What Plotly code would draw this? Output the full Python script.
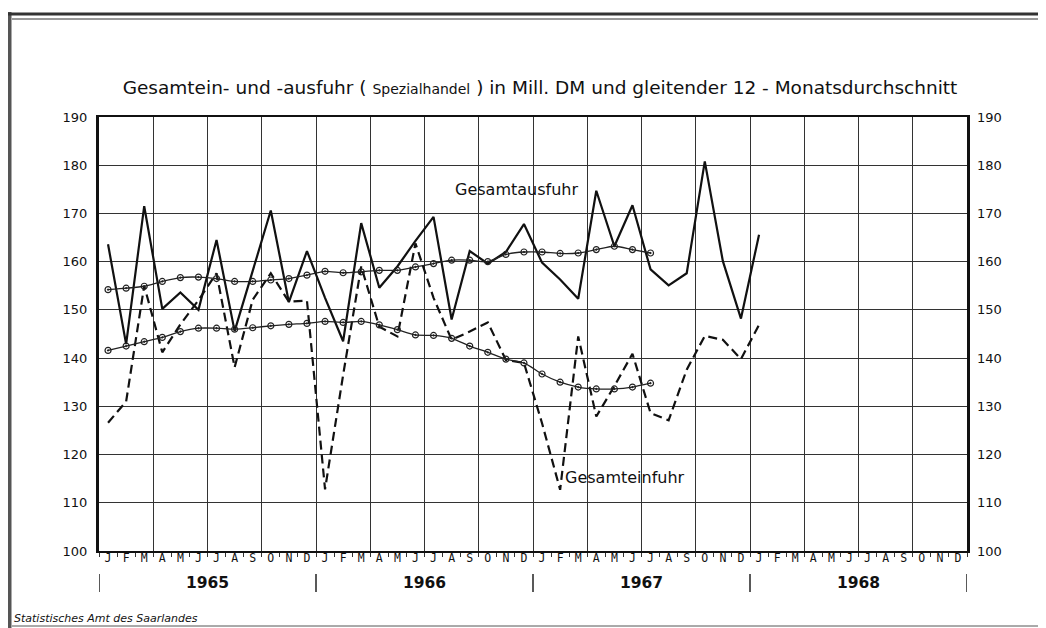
import plotly.graph_objects as go

months = ["J", "F", "M", "A", "M", "J", "J", "A", "S", "O", "N", "D"] * 4
years = ["1965", "1966", "1967", "1968"]

ausfuhr = [163.6, 142.9, 171.5, 150.2, 153.6, 150.0, 164.5, 145.6, 158.1, 170.6, 151.6, 162.2,
           152.5, 143.5, 168.0, 154.6, 159.0, 164.3, 169.3, 148.0, 162.2, 159.6, 162.0, 167.8,
           159.8, 156.3, 152.3, 174.7, 163.2, 171.7, 158.4, 155.1, 157.6, 180.8, 160.1, 148.2,
           165.6]
einfuhr = [126.6, 131.0, 155.0, 141.2, 147.0, 152.0, 157.6, 138.1, 152.1, 157.6, 151.7, 151.9,
           112.8, 136.5, 159.0, 146.5, 144.5, 163.8, 152.5, 143.8, 145.5, 147.4, 139.6, 139.0,
           126.5, 112.7, 144.5, 127.9, 134.2, 140.9, 128.6, 127.1, 137.6, 144.6, 143.8, 139.8,
           146.9]
ausfuhr_avg = [154.2, 154.5, 154.9, 155.9, 156.7, 156.8, 156.5, 155.9, 155.9, 156.2, 156.5, 157.2,
               158.0, 157.7, 157.9, 158.2, 158.2, 158.9, 159.6, 160.3, 160.3, 160.0, 161.5, 162.0,
               162.0, 161.7, 161.8, 162.5, 163.2, 162.5, 161.8]
einfuhr_avg = [141.6, 142.5, 143.4, 144.3, 145.5, 146.2, 146.2, 146.0, 146.3, 146.7, 147.0, 147.2,
               147.6, 147.4, 147.6, 146.9, 145.9, 144.8, 144.7, 144.1, 142.5, 141.2, 139.8, 139.0,
               136.7, 135.0, 134.0, 133.6, 133.6, 134.0, 134.8]
y_ticks = list(range(100, 191, 10))

# page body has an 8px default margin: work in window pixels, shifted by OFF
OFF = 8
W, H = 1046 - OFF, 628 - OFF
L, R, T, B = 99 - OFF, 967 - OFF, 117 - OFF, 551 - OFF
PW, PH = R - L, B - T


def px_x(p):
    return (p - OFF - L) / PW


def px_y(p):
    return (B - (p - OFF)) / PH


FONT = "DejaVu Sans"
fig = go.Figure()

fig.add_trace(go.Scatter(x=list(range(len(ausfuhr))), y=ausfuhr, mode="lines",
                         line=dict(color="#111", width=2.2), name="Gesamtausfuhr",
                         showlegend=False))
fig.add_trace(go.Scatter(x=list(range(len(einfuhr))), y=einfuhr, mode="lines",
                         line=dict(color="#111", width=2.2, dash="9px,5px"), name="Gesamteinfuhr",
                         showlegend=False))
for avg in (ausfuhr_avg, einfuhr_avg):
    fig.add_trace(go.Scatter(x=list(range(len(avg))), y=avg, mode="lines+markers",
                             line=dict(color="#222", width=1.3, shape="spline", smoothing=0.6),
                             marker=dict(symbol="circle-open-dot", size=6, color="#222",
                                         line=dict(width=1.2, color="#222")),
                             showlegend=False))

# month labels on an overlaid axis
fig.add_trace(go.Scatter(x=[0, 47], y=[None, None], xaxis="x2", yaxis="y2",
                         mode="markers", showlegend=False, hoverinfo="skip"))

fig.update_layout(
    width=W, height=H, autosize=False,
    margin=dict(l=L, r=W - R, t=T, b=H - B),
    paper_bgcolor="white", plot_bgcolor="white",
    font=dict(family=FONT, color="#111"),
    title=dict(text="Gesamtein- und -ausfuhr ( <span style='font-size:14px'>Spezialhandel</span> ) in Mill. DM und gleitender 12 - Monatsdurchschnitt",
               x=px_x(540), xanchor="center", xref="paper", y=1 - (88 - OFF) / H, yanchor="middle",
               font=dict(size=18.5, family=FONT, color="#111")),
    xaxis=dict(range=[-0.5, 47.5], tickvals=[-0.5 + 3 * k for k in range(17)],
               ticktext=[""] * 17, showgrid=True, gridcolor="#333", gridwidth=1,
               ticks="outside", ticklen=4, tickcolor="#333",
               minor=dict(tickvals=[-0.5 + k for k in range(49)], ticks="outside",
                          ticklen=4, tickcolor="#333", showgrid=False),
               showline=True, linecolor="#111", linewidth=1.5, mirror=True, zeroline=False),
    xaxis2=dict(range=[-0.5, 47.5], overlaying="x", side="bottom", anchor="y",
                tickvals=list(range(48)), ticktext=months, ticks="", showgrid=False,
                showline=False, zeroline=False, ticklabelstandoff=-2,
                tickfont=dict(size=11.5, family="DejaVu Sans Mono", color="#111")),
    yaxis=dict(range=[100, 190], tickvals=y_ticks, showgrid=True, gridcolor="#333",
               gridwidth=1, ticks="", showline=True, linecolor="#111", linewidth=3,
               mirror=True, zeroline=False, tickfont=dict(size=13, color="#111"),
               ticklabelstandoff=6),
    yaxis2=dict(range=[100, 190], tickvals=y_ticks, overlaying="y", side="right",
                showgrid=False, showline=False, zeroline=False, ticks="",
                tickfont=dict(size=13, color="#111"), ticklabelstandoff=9),
)

# year labels and separators
for i, yr in enumerate(years):
    fig.add_annotation(x=5.5 + 12 * i, xref="x", y=px_y(583), yref="paper", yanchor="middle",
                       text="<b>%s</b>" % yr, showarrow=False,
                       font=dict(size=15.5, family=FONT, color="#111"))
for k in range(5):
    fig.add_shape(type="line", xref="x", yref="paper", x0=-0.5 + 12 * k, x1=-0.5 + 12 * k,
                  y0=px_y(574), y1=px_y(592), line=dict(color="#222", width=1.5))

# series labels
fig.add_annotation(x=22.6, y=174.9, text="Gesamtausfuhr", showarrow=False,
                   font=dict(size=16, family=FONT, color="#111"))
fig.add_annotation(x=28.6, y=115.2, text="Gesamteinfuhr", showarrow=False,
                   font=dict(size=16, family=FONT, color="#111"))

# footer
fig.add_annotation(x=px_x(12), y=px_y(618), xref="paper", yref="paper", xanchor="left",
                   yanchor="middle", text="<i>Statistisches Amt des Saarlandes</i>",
                   showarrow=False, font=dict(size=11, family=FONT, color="#111"))

# outer frame
fig.add_shape(type="line", xref="paper", yref="paper", x0=px_x(8), x1=px_x(8),
              y0=px_y(12), y1=px_y(628), line=dict(color="#555", width=7))
fig.add_shape(type="line", xref="paper", yref="paper", x0=px_x(4), x1=px_x(1046),
              y0=px_y(14), y1=px_y(14), line=dict(color="#333", width=3))
fig.add_shape(type="line", xref="paper", yref="paper", x0=px_x(12), x1=px_x(1046),
              y0=px_y(19), y1=px_y(19), line=dict(color="#333", width=1))
fig.add_shape(type="line", xref="paper", yref="paper", x0=px_x(12), x1=px_x(1046),
              y0=px_y(626), y1=px_y(626), line=dict(color="#555", width=1))

fig.write_html("out.html")
